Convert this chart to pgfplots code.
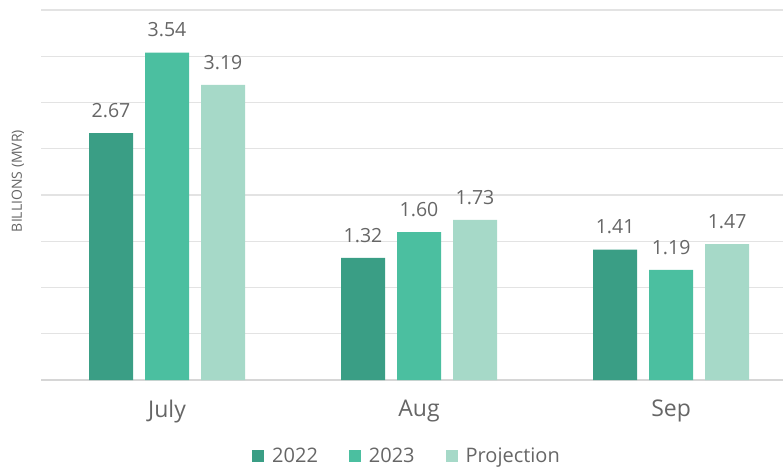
\documentclass[border=0pt]{standalone}
\usepackage{pgfplots}
\pgfplotsset{compat=1.18}
\usepackage{fontspec}
\setmainfont{Open Sans}
\definecolor{cA}{HTML}{3A9E85}
\definecolor{cB}{HTML}{4BBFA0}
\definecolor{cC}{HTML}{A6D9C8}
\definecolor{txt}{HTML}{666666}
\definecolor{grd}{HTML}{E3E3E3}
\definecolor{base}{HTML}{D6D6D6}
\begin{document}
\begin{tikzpicture}
\begin{axis}[
  at={(0pt,0pt)}, anchor=south west,
  scale only axis, width=742pt, height=370pt,
  ymin=0, ymax=4, xmin=-0.5, xmax=2.444,
  ybar=12pt, bar width=44pt,
  xtick={0,1,2}, xticklabels={July,Aug,Sep},
  ytick={0,0.5,...,4}, yticklabels={},
  ymajorgrids, grid style={grd, line width=1.2pt},
  major tick length=0pt,
  axis x line*=bottom, axis y line*=left,
  x axis line style={draw=base, line width=2pt, -},
  y axis line style={draw=none},
  xticklabel style={font=\fontsize{23}{25}\selectfont, color=txt, yshift=-16pt},
  nodes near coords,
  nodes near coords style={font=\fontsize{19.5}{21}\selectfont, color=txt, anchor=south, yshift=12pt,
     /pgf/number format/fixed, /pgf/number format/fixed zerofill, /pgf/number format/precision=2, /pgf/number format/assume math mode=true},
  legend columns=3,
  legend style={at={(axis description cs:0.5,0)}, anchor=center, yshift=-76pt, xshift=-5pt, draw=none, fill=none,
     font=\fontsize{20}{22}\selectfont, text=txt,
     /tikz/every even column/.append style={column sep=29pt}},
  legend image code/.code={\fill[#1] (0pt,-6pt) rectangle (12pt,6pt); \path (18pt,0pt);},
]
\addplot[fill=cA, draw=none] coordinates {(0,2.67) (1,1.32) (2,1.41)};
\addplot[fill=cB, draw=none] coordinates {(0,3.54) (1,1.60) (2,1.19)};
\addplot[fill=cC, draw=none] coordinates {(0,3.19) (1,1.73) (2,1.47)};
\legend{2022,2023,Projection}
\end{axis}
\node[rotate=90, anchor=center, text=txt, font=\fontsize{14}{16}\selectfont] at (-23pt,199pt) {BILLIONS (MVR)};
\pgfresetboundingbox
\path[use as bounding box] (-41pt,-88pt) rectangle (742pt,380pt);
\end{tikzpicture}
\end{document}
